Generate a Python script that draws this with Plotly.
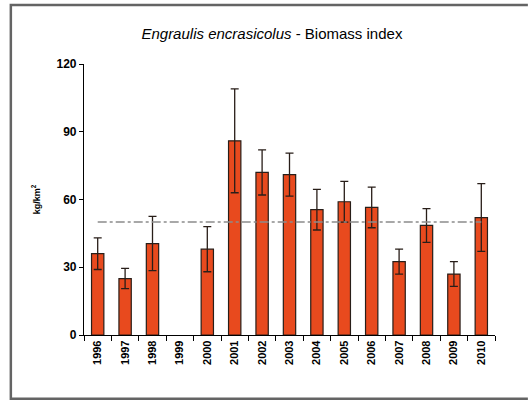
import plotly.graph_objects as go

years = ['1996', '1997', '1998', '1999', '2000', '2001', '2002', '2003',
         '2004', '2005', '2006', '2007', '2008', '2009', '2010']
biomass = [36, 25, 40.5, None, 38, 86, 72, 71, 55.5, 59, 56.5, 32.5, 48.5, 27, 52]
biomass_err = [7, 4.5, 12, None, 10, 23, 10, 9.5, 9, 9, 9, 5.5, 7.5, 5.5, 15]
mean_level = 50
y_ticks = [0, 30, 60, 90, 120]

BAR_COLOUR = 'rgb(232, 74, 30)'
EDGE_COLOUR = 'rgb(40, 30, 25)'
REF_COLOUR = 'rgb(140, 140, 140)'
FRAME_COLOUR = 'rgb(100, 100, 100)'
FONT = 'Liberation Sans, Arial, sans-serif'

bars = go.Bar(x=years, y=biomass,
              marker=dict(color=BAR_COLOUR, line=dict(color=EDGE_COLOUR, width=1.2)),
              error_y=dict(type='data', array=biomass_err, visible=True,
                           color=EDGE_COLOUR, thickness=1.3, width=4),
              width=0.45)

ref_line = go.Scatter(x=years, y=[mean_level] * len(years), mode='lines',
                      line=dict(color=REF_COLOUR, width=1.5, dash='dashdot'),
                      hoverinfo='none')

# outer frame (open on the right, as in the cropped original)
fx0, fx1, fy0, fy1 = -0.178, 1.08, -0.235, 1.218
frame = [dict(type='path', xref='paper', yref='paper',
              path=f'M {fx1},{fy1} L {fx0},{fy1} L {fx0},{fy0} L {fx1},{fy0}',
              line=dict(color=FRAME_COLOUR, width=2.5))]

fig = go.Figure(data=[ref_line, bars])
fig.update_layout(
    width=528, height=401,
    margin=dict(l=84, r=33, t=64, b=66, autoexpand=False),
    paper_bgcolor='white', plot_bgcolor='white',
    showlegend=False,
    font=dict(family=FONT, color='black'),
    title=dict(text='<i>Engraulis encrasicolus</i> - Biomass index',
               x=0.515, xanchor='center', y=0.915, yanchor='middle',
               font=dict(size=15, family=FONT, color='black')),
    shapes=frame,
)
fig.update_xaxes(type='category', showline=True, linecolor='black', linewidth=1.2,
                 ticks='outside', tickson='boundaries', ticklen=5, tickcolor='black',
                 tickangle=-90, tickfont=dict(size=11, family=FONT, weight='bold'),
                 showgrid=False, zeroline=False)
fig.update_yaxes(range=[0, 120], tickvals=y_ticks, showline=True, linecolor='black',
                 linewidth=1.2, ticks='outside', ticklen=4, tickcolor='black',
                 tickfont=dict(size=12, family=FONT, weight='bold'),
                 showgrid=False, zeroline=False,
                 title=dict(text='kg/km<sup>2</sup>', standoff=14,
                            font=dict(size=9, family=FONT, weight='bold')))

fig.write_html('out.html', config={'displayModeBar': False},
               post_script="document.body.style.margin='0';"
                           "document.body.style.overflow='hidden';")
